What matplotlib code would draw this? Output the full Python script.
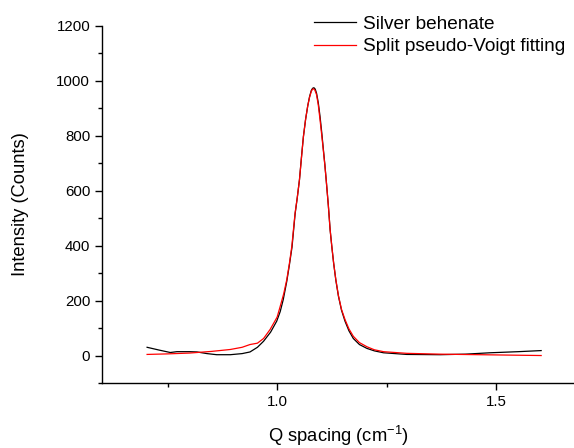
import matplotlib
matplotlib.use("Agg")
import matplotlib.pyplot as plt
from matplotlib.ticker import MultipleLocator

plt.rcParams['font.family'] = ['Liberation Sans', 'DejaVu Sans']
plt.rcParams['mathtext.default'] = 'regular'

# Silver behenate measured data
q_data = [0.703, 0.73, 0.756, 0.771, 0.80, 0.817, 0.84, 0.862, 0.893, 0.92, 0.938,
          0.955, 0.969, 0.985, 0.999, 1.007, 1.014, 1.022, 1.028, 1.034, 1.041,
          1.046, 1.051, 1.056, 1.060, 1.065, 1.070, 1.074, 1.078, 1.081, 1.084,
          1.087, 1.090, 1.094, 1.098, 1.102, 1.105, 1.109, 1.112, 1.117, 1.121,
          1.125, 1.129, 1.134, 1.140, 1.147, 1.155, 1.164, 1.174, 1.188, 1.205,
          1.222, 1.243, 1.296, 1.372, 1.43, 1.486, 1.55, 1.603]
i_data = [30, 20, 11, 14, 14, 13, 7, 3, 3, 7, 13,
          30, 52, 85, 125, 160, 204, 270, 330, 395, 515,
          575, 640, 730, 797, 860, 910, 942, 965, 973, 975,
          970, 955, 920, 870, 810, 760, 695, 640, 545, 458,
          395, 337, 275, 216, 165, 125, 90, 62, 40, 26,
          17, 10, 4, 3, 5, 10, 14, 18]

# Split pseudo-Voigt fit
q_fit = [0.703, 0.75, 0.80, 0.85, 0.893, 0.92, 0.938, 0.955, 0.969, 0.984, 1.0,
         1.007, 1.015, 1.022, 1.028, 1.0335, 1.041, 1.046, 1.051, 1.056, 1.060,
         1.065, 1.070, 1.074, 1.078, 1.081, 1.083, 1.086, 1.090, 1.094, 1.098,
         1.102, 1.105, 1.109, 1.112, 1.117, 1.121, 1.125, 1.129, 1.134, 1.140,
         1.147, 1.155, 1.164, 1.174, 1.188, 1.205, 1.222, 1.243, 1.296, 1.372,
         1.486, 1.603]
i_fit = [4, 6, 9, 15, 22, 30, 40, 45, 62, 95, 140,
         179, 225, 276, 335, 397, 519, 575, 640, 728, 797,
         860, 910, 940, 962, 970, 971, 967, 950, 912, 858,
         800, 755, 692, 640, 545, 458, 395, 337, 277, 218,
         168, 131, 97, 70, 47, 32, 21, 14, 8, 5,
         2.5, 0]

fig = plt.figure(figsize=(5.74, 4.48), dpi=100)
ax = fig.add_axes([0.1777, 0.1451, 0.8223, 0.797])

ax.plot(q_data, i_data, color='black', lw=0.9, label='Silver behenate')
ax.plot(q_fit, i_fit, color='red', lw=0.9, label='Split pseudo-Voigt fitting')

ax.set_xlim(0.6, 1.678)
ax.set_ylim(-100, 1200)
ax.xaxis.set_major_locator(MultipleLocator(0.5))
ax.xaxis.set_minor_locator(MultipleLocator(0.25))
ax.yaxis.set_major_locator(MultipleLocator(200))
ax.yaxis.set_minor_locator(MultipleLocator(100))
ax.xaxis.set_major_formatter(plt.FuncFormatter(lambda v, p: f"{v:.1f}"))

for s in ['top', 'right']:
    ax.spines[s].set_visible(False)
for s in ['left', 'bottom']:
    ax.spines[s].set_linewidth(1.0)

ax.tick_params(which='major', direction='out', length=5, width=1.0, labelsize=10.8)
ax.tick_params(which='minor', direction='out', length=3, width=1.0)

ax.set_xlabel('Q spacing (cm$^{-1}$)', fontsize=13.2, labelpad=11)
ax.set_ylabel('Intensity (Counts)', fontsize=13.2, labelpad=20)

leg = fig.legend(loc='upper left', bbox_to_anchor=(0.52, 1.0), frameon=False,
                 fontsize=13.7, handlelength=2.2, handletextpad=0.37,
                 labelspacing=0.28, borderpad=0.3)

fig.savefig('out.png', dpi=100)
